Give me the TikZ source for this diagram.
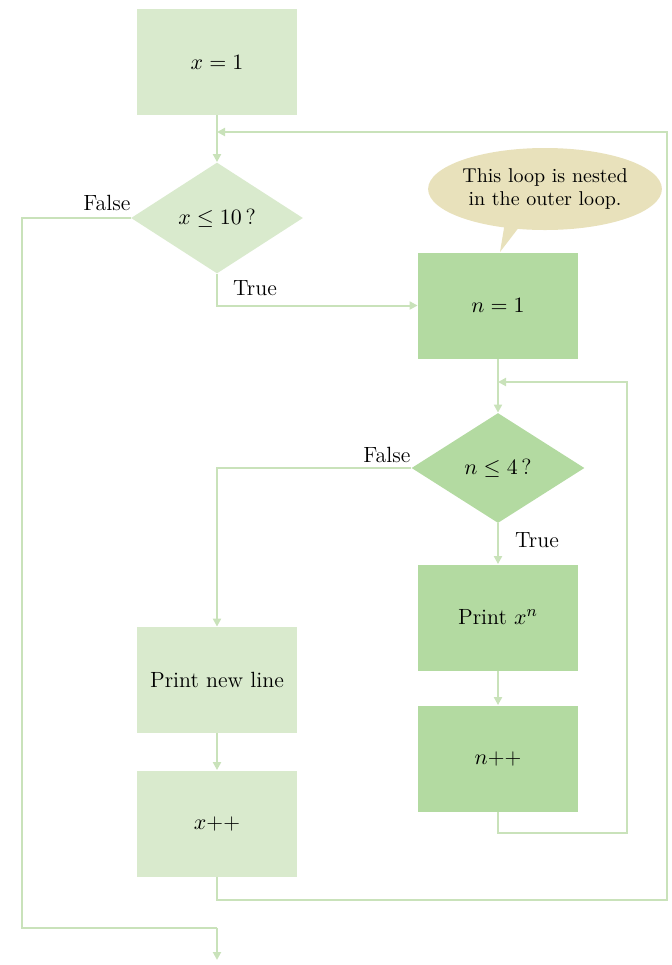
\documentclass[tikz,border=0pt]{standalone}
\usetikzlibrary{shapes.geometric,arrows.meta}
\definecolor{lightg}{HTML}{D9EACD}
\definecolor{darkg}{HTML}{B3DAA1}
\definecolor{lineg}{HTML}{C9E2BA}
\definecolor{tan}{HTML}{E8E1BB}
\tikzset{
  lbox/.style={rectangle,fill=lightg,minimum width=80pt,minimum height=53pt,inner sep=0pt,font=\fontsize{11}{13}\selectfont},
  dbox/.style={rectangle,fill=darkg,minimum width=80pt,minimum height=53pt,inner sep=0pt,font=\fontsize{11}{13}\selectfont},
  ldia/.style={diamond,fill=lightg,minimum width=86pt,minimum height=55.5pt,inner sep=0pt,font=\fontsize{11}{13}\selectfont},
  ddia/.style={diamond,fill=darkg,minimum width=86.5pt,minimum height=55pt,inner sep=0pt,font=\fontsize{11}{13}\selectfont},
  conn/.style={draw=lineg,line width=1pt},
  arr/.style={conn,-{Triangle[length=4pt,width=4pt]}},
  lab/.style={font=\fontsize{11}{13}\selectfont,inner sep=0pt}
}
\begin{document}
\begin{tikzpicture}[x=0.5pt,y=-0.5pt]
\useasboundingbox (0,0) rectangle (671,965);
% nodes
\node[lbox] (b1) at (217,62) {$x = 1$};
\node[ldia] (d1) at (217,218) {$x \le 10$\,?};
\node[dbox] (n1) at (498,305.5) {$n = 1$};
\node[ddia] (d2) at (498,468) {$n \le 4$\,?};
\node[dbox] (px) at (498,617.5) {Print $x^n$};
\node[dbox] (npp) at (498,758.5) {$n$++};
\node[lbox] (pnl) at (217,680) {Print new line};
\node[lbox] (xpp) at (217,823.5) {$x$++};
% callout
\fill[tan] (505,222) -- (523,222) -- (500,252) -- cycle;
\node[ellipse,fill=tan,minimum width=115pt,minimum height=41pt,inner sep=0pt,align=center,font=\fontsize{10}{11.5}\selectfont] (call) at (545,189) {This loop is nested\\in the outer loop.};
% coordinates
\coordinate (o1) at (217,900);
\coordinate (o2) at (667,900);
\coordinate (o3) at (667,132);
\coordinate (o4) at (217,132);
\coordinate (f1) at (22,928);
\coordinate (f2) at (217,928);
\coordinate (f3) at (217,960);
\coordinate (i1) at (498,833);
\coordinate (i2) at (627,833);
\coordinate (i3) at (627,382);
\coordinate (i4) at (498,382);
% connectors
\draw[arr] (b1.south) -- (d1.north);
\draw[arr] (xpp.south) -- (o1) -- (o2) -- (o3) -- (o4);
\draw[conn] (d1.west) -| (f1) -- (f2);
\draw[arr] (f2) -- (f3);
\draw[arr] (d1.south) |- (n1.west);
\draw[arr] (n1.south) -- (d2.north);
\draw[arr] (npp.south) -- (i1) -- (i2) -- (i3) -- (i4);
\draw[arr] (d2.west) -| (pnl.north);
\draw[arr] (d2.south) -- (px.north);
\draw[arr] (px.south) -- (npp.north);
\draw[arr] (pnl.south) -- (xpp.north);
% labels
\node[lab] (lf1) at (107,203) {False};
\node[lab] (lt1) at (255,288) {True};
\node[lab] (lf2) at (387,455) {False};
\node[lab] (lt2) at (537,540) {True};
\end{tikzpicture}
\end{document}
